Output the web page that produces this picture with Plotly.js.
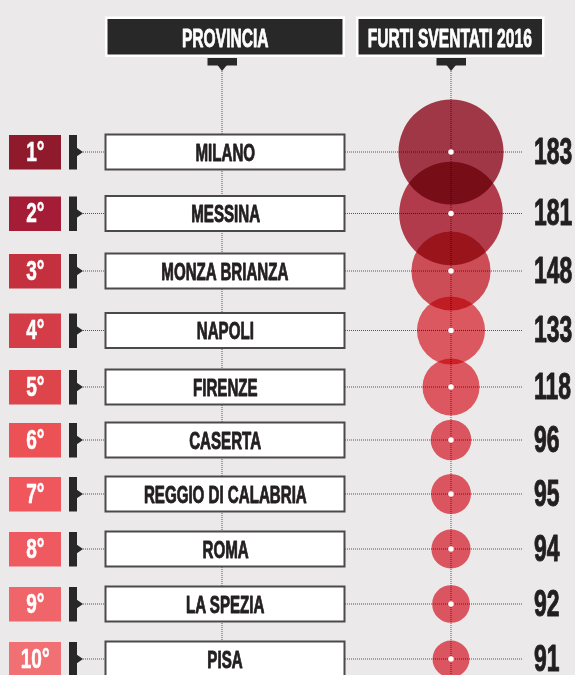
<!DOCTYPE html>
<html><head><meta charset="utf-8">
<script src="https://cdn.plot.ly/plotly-3.0.1.min.js"></script>
<style>html,body{margin:0;padding:0;background:#ECE9EA;overflow:hidden;} #chart{width:575px;height:675px;}</style>
</head><body><div id="chart"></div>
<script>
// ---- data ----
const ranks = ['1°','2°','3°','4°','5°','6°','7°','8°','9°','10°'];
const provinces = ['MILANO','MESSINA','MONZA BRIANZA','NAPOLI','FIRENZE','CASERTA','REGGIO DI CALABRIA','ROMA','LA SPEZIA','PISA'];
const furti = [183,181,148,133,118,96,95,94,92,91];
const headers = ['PROVINCIA','FURTI SVENTATI 2016'];

// ---- layout / style ----
const W = 575, H = 675;
const rowY = [152,213.5,271,330.5,387,440,494,549,604,659];
const badgeColors = ['#8E1A2B','#A51C37','#C5303F','#D43C47','#DE454B','#EC5156','#F0575C','#EE5A5F','#EF6569','#F07074'];
const circleColors = ['#AC3C4C','#BF3F52','#DE545D','#EE6068','#EE5F67','#EC5D67','#EC5D67','#EC5D67','#EC5D67','#EC5D67'];
const BG = '#ECE9EA', DARK = '#272827', INK = '#231F20', DOT = '#555555';
const FONT = '"Liberation Sans", Arial, sans-serif';
const X = {badge0:9, badge1:61, bar0:69, bar1:77, tri:83, box0:105.5, box1:344.5, boxC:225,
           provLine:222, circ:451, lineEnd:523, num:532};
const HALF = 17.5;
const vmin = Math.min(...furti);
const sizeOf = v => 37 + 0.74 * (v - vmin);

const shapes = [];
const annotations = [];
const annFx = []; // [scaleX, anchorMode, strokeWidth]

// vertical dotted lines
[X.provLine, X.circ].forEach(x => shapes.push({type:'line', xref:'x', yref:'y', x0:x, x1:x, y0:71, y1:H,
  line:{color:DOT, width:1, dash:'1px,1px'}, layer:'below'}));

// header boxes
const hdr = [{x0:105, x1:345, tab:222}, {x0:356, x1:544.5, tab:451}];
hdr.forEach((h, i) => {
  shapes.push({type:'rect', x0:h.x0+1.25, x1:h.x1-1.25, y0:17.75, y1:55.75, fillcolor:DARK,
    line:{color:'#FFFFFF', width:2.5}, layer:'above'});
  shapes.push({type:'rect', x0:h.tab-14.5, x1:h.tab+15, y0:58, y1:65.5, fillcolor:DARK, line:{width:0}, layer:'above'});
  shapes.push({type:'path', path:`M ${h.tab-4.5} 65 L ${h.tab+5} 65 L ${h.tab} 71 Z`, fillcolor:DARK, line:{width:0}, layer:'above'});
  annotations.push({x:(h.x0+h.x1)/2, y:37.5, text:headers[i], showarrow:false,
    xanchor:'center', yanchor:'middle', font:{family:FONT, size:26, color:'#FFFFFF', weight:'bold'}});
  annFx.push([0.6, 'c', 0.8]);
});

// rows
provinces.forEach((p, i) => {
  const y = rowY[i];
  shapes.push({type:'line', x0:X.tri, x1:X.lineEnd, y0:y, y1:y, line:{color:DOT, width:1, dash:'1px,1px'}, layer:'below'});
  shapes.push({type:'rect', x0:X.badge0, x1:X.badge1, y0:y-HALF+0.5, y1:y+HALF, fillcolor:badgeColors[i], line:{width:0}, layer:'above'});
  shapes.push({type:'rect', x0:X.bar0, x1:X.bar1, y0:y-HALF+0.5, y1:y+HALF, fillcolor:DARK, line:{width:0}, layer:'above'});
  shapes.push({type:'path', path:`M ${X.bar1-0.5} ${y-4.5} L ${X.tri} ${y} L ${X.bar1-0.5} ${y+4.5} Z`, fillcolor:DARK, line:{width:0}, layer:'above'});
  shapes.push({type:'rect', x0:X.box0, x1:X.box1, y0:y-HALF, y1:y+HALF, fillcolor:'#FFFFFF',
    line:{color:'#4A4A4A', width:2}, layer:'above'});
  annotations.push({x:(X.badge0+X.badge1)/2, y:y, text:ranks[i], showarrow:false, xanchor:'center', yanchor:'middle', yshift:1,
    font:{family:FONT, size:28, color:'#FFFFFF', weight:'bold'}});
  annFx.push([0.68, 'c', 0.6]);
  annotations.push({x:X.boxC, y:y, text:p, showarrow:false, xanchor:'center', yanchor:'middle', yshift:0,
    font:{family:FONT, size:24, color:INK, weight:'bold'}});
  annFx.push([0.63, 'c', 0.9]);
  annotations.push({x:X.num, y:y, text:String(furti[i]), showarrow:false, xanchor:'left', yanchor:'middle', yshift:1,
    font:{family:FONT, size:37, color:INK, weight:'bold'}});
  annFx.push([0.62, 'l', 1.0]);
});
annotations.forEach(a => { a.xref = 'x'; a.yref = 'y'; });

const traces = [
  {type:'scatter', mode:'markers', x:furti.map(() => X.circ), y:rowY, cliponaxis:false, hoverinfo:'skip',
   marker:{size:furti.map(sizeOf), sizemode:'diameter', color:circleColors, opacity:1, line:{width:0}}},
  {type:'scatter', mode:'markers', x:furti.map(() => X.circ), y:rowY, cliponaxis:false, hoverinfo:'skip',
   marker:{size:5.5, color:'#FFFFFF', line:{width:0}}}
];

const layout = {
  width:W, height:H, margin:{l:0, r:0, t:0, b:0, pad:0},
  paper_bgcolor:BG, plot_bgcolor:BG, showlegend:false,
  xaxis:{range:[0, W], visible:false, fixedrange:true},
  yaxis:{range:[H, 0], visible:false, fixedrange:true},
  shapes:shapes, annotations:annotations
};

Plotly.newPlot('chart', traces, layout, {displayModeBar:false, staticPlot:true}).then(gd => {
  // multiply blending for the circles
  const tr = gd.querySelectorAll('.scatterlayer .trace');
  if (tr[0]) tr[0].querySelectorAll('path.point').forEach(p => p.style.mixBlendMode = 'multiply');
  // condense the text horizontally, thicken strokes
  gd.querySelectorAll('g.annotation').forEach(g => {
    const idx = +g.getAttribute('data-index');
    const t = g.querySelector('text.annotation-text');
    if (!t || !annFx[idx]) return;
    const [s, mode, sw] = annFx[idx];
    const bb = t.getBBox();
    const cx = mode === 'l' ? bb.x : bb.x + bb.width / 2;
    t.setAttribute('transform', `translate(${cx} 0) scale(${s} 1) translate(${-cx} 0)`);
    const fill = t.style.fill || getComputedStyle(t).fill;
    t.style.stroke = fill;
    t.style.strokeWidth = sw + 'px';
    t.style.strokeLinejoin = 'round';
  });
});
</script>
</body></html>
